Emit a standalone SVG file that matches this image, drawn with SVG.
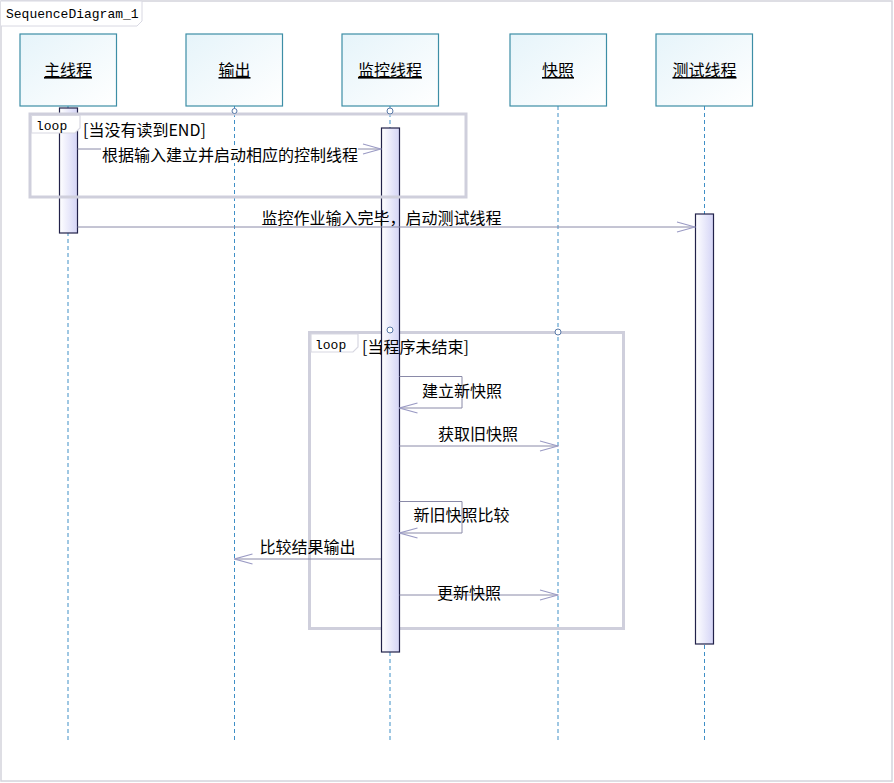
<svg xmlns="http://www.w3.org/2000/svg" width="894" height="783" viewBox="0 0 894 783">
<defs>
<linearGradient id="boxg" x1="0" y1="0" x2="1" y2="1">
<stop offset="0" stop-color="#e6f4fa"/><stop offset="1" stop-color="#ffffff"/>
</linearGradient>
<linearGradient id="actg" x1="0" y1="0" x2="1" y2="0">
<stop offset="0" stop-color="#ffffff"/><stop offset="1" stop-color="#d4d4f6"/>
</linearGradient>
<marker id="open" viewBox="0 0 20 12" refX="19" refY="6" markerWidth="20" markerHeight="12" markerUnits="userSpaceOnUse" orient="auto">
<path d="M1,1 L19,6 L1,11" fill="none" stroke="#9a9ac4" stroke-width="1.2"/>
</marker>
<style>
.box{fill:url(#boxg);stroke:#3d8ea6;stroke-width:1.2}
.name{font-family:"Noto Sans CJK SC","Noto Sans CJK JP",sans-serif;font-size:16px;fill:#000;text-anchor:middle;text-decoration:underline}
.life{stroke:#3f8fc6;stroke-width:1;stroke-dasharray:4,3;fill:none}
.act{fill:url(#actg);stroke:#22224a;stroke-width:1.2}
.frame{fill:none;stroke:#cfcfdc;stroke-width:3}
.tab{fill:#ffffff;stroke:#d8d8e2;stroke-width:1.2}
.mono{font-family:"Liberation Mono","DejaVu Sans Mono",monospace;font-size:13px;fill:#000}
.lbl{font-family:"Noto Sans CJK SC","Noto Sans CJK JP",sans-serif;font-size:16px;fill:#000}
.msg{stroke:#8a8aa8;stroke-width:1;fill:none;marker-end:url(#open)}
.gate{fill:#ffffff;stroke:#5a7aa8;stroke-width:1}
</style>
</defs>
<rect x="1" y="1" width="891" height="780" fill="#ffffff" stroke="#d4d4dc" stroke-width="1.5"/>
<path d="M1,1 H142 V21 L137,26 H1" fill="#ffffff" stroke="#d8d8e2" stroke-width="1"/>
<text x="6" y="18" class="mono">SequenceDiagram_1</text>

<g id="lifelines">
<line class="life" x1="68" y1="106" x2="68" y2="740"/>
<line class="life" x1="234.5" y1="106" x2="234.5" y2="740"/>
<line class="life" x1="390" y1="106" x2="390" y2="740"/>
<line class="life" x1="558" y1="106" x2="558" y2="740"/>
<line class="life" x1="704.5" y1="106" x2="704.5" y2="740"/>
</g>

<g id="loop2frame">
<rect class="frame" x="309.5" y="332.5" width="314" height="296"/>
</g>

<g id="activations">
<rect class="act" x="59.5" y="108" width="18" height="125"/>
<rect class="act" x="381.5" y="128" width="18" height="524"/>
<rect class="act" x="695.5" y="214" width="18" height="430"/>
</g>

<g id="loop1">
<rect class="frame" x="30" y="114" width="436" height="83"/>
<path class="tab" d="M31.5,115.5 H80 V128 L75,133 H31.5 Z"/>
<text x="36" y="130" class="mono">loop</text>
<text x="83" y="136" class="lbl">[当没有读到END]</text>
</g>
<g id="loop2">
<path class="tab" d="M311,334 H358 V347 L353,352 H311 Z"/>
<text x="315" y="349" class="mono">loop</text>
<text x="362" y="353" class="lbl">[当程序未结束]</text>
</g>

<g id="n1"><rect class="box" x="20" y="34" width="96.5" height="72"/><text class="name" x="68" y="76">主线程</text></g>
<g id="n2"><rect class="box" x="186" y="34" width="96.5" height="72"/><text class="name" x="234.5" y="76">输出</text></g>
<g id="n3"><rect class="box" x="342" y="34" width="96.5" height="72"/><text class="name" x="390" y="76">监控线程</text></g>
<g id="n4"><rect class="box" x="510" y="34" width="96.5" height="72"/><text class="name" x="558" y="76">快照</text></g>
<g id="n5"><rect class="box" x="656" y="34" width="96.5" height="72"/><text class="name" x="704.5" y="76">测试线程</text></g>

<g id="gates">
<circle class="gate" cx="234.5" cy="111" r="2.5"/>
<circle class="gate" cx="390" cy="111" r="3"/>
<circle class="gate" cx="390" cy="330" r="3"/>
<circle class="gate" cx="558" cy="332" r="3"/>
</g>

<g id="connectors">
<line class="msg" x1="77.5" y1="149" x2="381" y2="149"/>
<line class="msg" x1="77.5" y1="227" x2="695" y2="227"/>
<polyline class="msg" points="399.5,376.5 462,376.5 462,408 399.5,408"/>
<line class="msg" x1="399.5" y1="446" x2="558" y2="446"/>
<polyline class="msg" points="399.5,501.5 462,501.5 462,533 399.5,533"/>
<line class="msg" x1="381" y1="559" x2="234.5" y2="559"/>
<line class="msg" x1="399.5" y1="595" x2="558" y2="595"/>
</g>

<g id="labels">
<rect x="101" y="145" width="257" height="18" fill="#ffffff"/>
<text x="102" y="161" class="lbl">根据输入建立并启动相应的控制线程</text>
<text x="381.5" y="224" class="lbl" text-anchor="middle">监控作业输入完毕，启动测试线程</text>
<text x="462" y="397" class="lbl" text-anchor="middle">建立新快照</text>
<text x="478" y="440" class="lbl" text-anchor="middle">获取旧快照</text>
<text x="461.5" y="521" class="lbl" text-anchor="middle">新旧快照比较</text>
<text x="307.5" y="553" class="lbl" text-anchor="middle">比较结果输出</text>
<text x="469" y="599" class="lbl" text-anchor="middle">更新快照</text>
</g>
</svg>
